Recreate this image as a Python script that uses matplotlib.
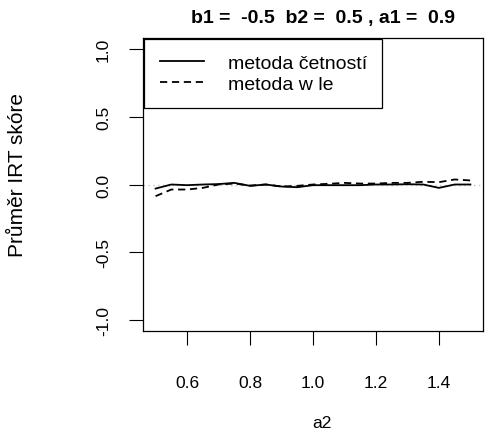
import matplotlib
matplotlib.use("Agg")
import matplotlib.pyplot as plt
import numpy as np

# data
a2 = [0.50, 0.55, 0.60, 0.65, 0.70, 0.75, 0.80, 0.85, 0.90, 0.95, 1.00,
      1.05, 1.10, 1.15, 1.20, 1.25, 1.30, 1.35, 1.40, 1.45, 1.50]
metoda_cetnosti = [-0.030, 0.000, -0.005, 0.000, 0.003, 0.012, -0.010, 0.000, -0.015, -0.020, -0.005,
                   -0.005, -0.005, -0.005, 0.000, 0.000, 0.002, 0.000, -0.025, 0.000, 0.000]
metoda_wle = [-0.086, -0.037, -0.037, -0.025, 0.000, 0.007, -0.008, 0.000, -0.015, -0.010, 0.000,
              0.005, 0.012, 0.007, 0.007, 0.012, 0.012, 0.020, 0.017, 0.037, 0.030]
labels = ["metoda četností", "metoda w le"]
title = "b1 =  -0.5  b2 =  0.5 , a1 =  0.9"
xticks = [0.6, 0.8, 1.0, 1.2, 1.4]
yticks = [-1.0, -0.5, 0.0, 0.5, 1.0]

plt.rcParams['font.family'] = ['Liberation Sans', 'DejaVu Sans']

W, H = 486, 435
fig = plt.figure(figsize=(W / 100, H / 100), dpi=100)
L, T, R, B = 143, 39, 483, 332
ax = fig.add_axes([L / W, 1 - B / H, (R - L) / W, (B - T) / H])

ax.axhline(0, color="#c4c4c4", lw=1.0, ls=(0, (1, 2.5)), zorder=1)
l1, = ax.plot(a2, metoda_cetnosti, color="black", lw=1.3, ls="-", label=labels[0], zorder=3)
l2, = ax.plot(a2, metoda_wle, color="black", lw=1.3, ls=(0, (4, 2.6)), label=labels[1], zorder=3)

ax.set_xlim(0.46, 1.54)
ax.set_ylim(-1.08, 1.08)
ax.set_xticks(xticks)
ax.set_xticklabels([f"{v:.1f}" for v in xticks])
ax.set_yticks(yticks)
ax.set_yticklabels([f"{v:.1f}" for v in yticks], rotation=90, va="center")
ax.tick_params(axis="x", length=10, width=0.8, pad=22, labelsize=12.5)
ax.tick_params(axis="y", length=10, width=0.8, pad=13, labelsize=12.5)
for s in ax.spines.values():
    s.set_linewidth(0.9)

ax.set_xlabel("a2", fontsize=12.5)
ax.xaxis.set_label_coords((322 - L) / (R - L), (B - 423) / (B - T))
ax.xaxis.label.set_va("center")
ax.set_ylabel("Průměr IRT skóre", fontsize=15)
ax.yaxis.set_label_coords((18 - L) / (R - L), (B - 175) / (B - T))
ax.yaxis.label.set_va("center")

fig.text(323 / W, 1 - 18 / H, title, ha="center", va="center", fontsize=14, fontweight="bold")

leg = ax.legend(handles=[l1, l2], loc="upper left", bbox_to_anchor=(0.003, 0.997),
                fontsize=14, frameon=True, fancybox=False, framealpha=1,
                edgecolor="black", borderpad=0.8, handlelength=2.3,
                handletextpad=1.2, labelspacing=0.15, borderaxespad=0)
leg.get_frame().set_linewidth(0.9)
leg.set_zorder(5)

fig.savefig("out.png", dpi=100)
